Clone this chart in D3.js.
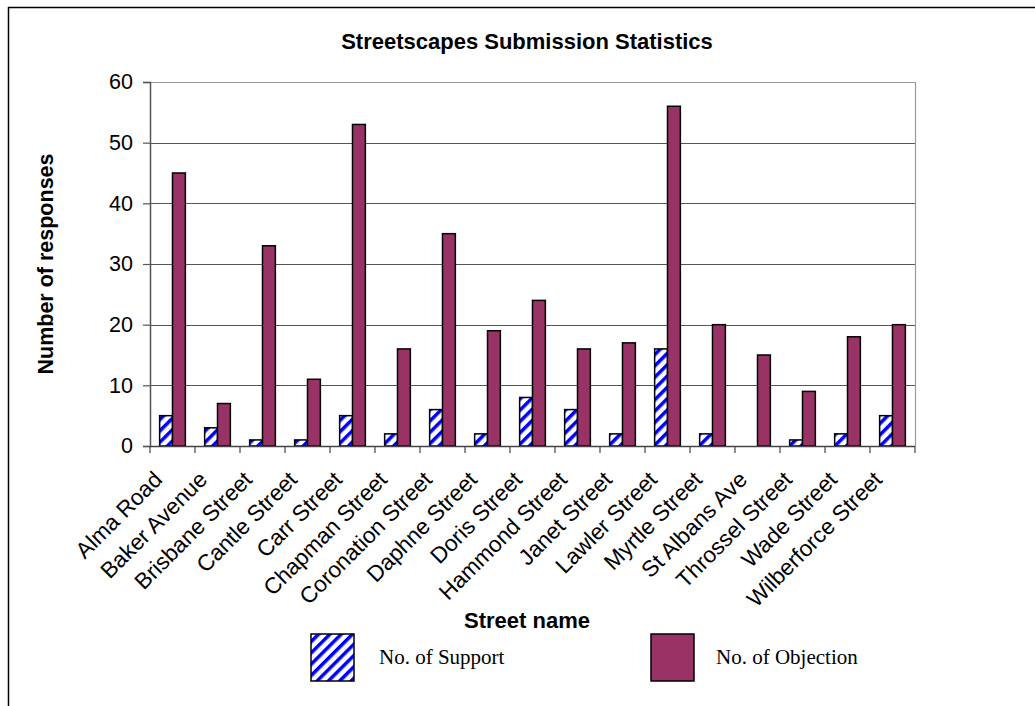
<!DOCTYPE html>
<html><head><meta charset="utf-8">
<script src="https://cdn.jsdelivr.net/npm/d3@7"></script>
<style>body{margin:0;background:#fff}</style>
</head><body>
<svg id="c" width="1035" height="706"></svg>
<script>
const categories = ["Alma Road","Baker Avenue","Brisbane Street","Cantle Street","Carr Street","Chapman Street","Coronation Street","Daphne Street","Doris Street","Hammond Street","Janet Street","Lawler Street","Myrtle Street","St Albans Ave","Throssel Street","Wade Street","Wilberforce Street"];
const support = [5,3,1,1,5,2,6,2,8,6,2,16,2,0,1,2,5];
const objection = [45,7,33,11,53,16,35,19,24,16,17,56,20,15,9,18,20];
const yTicks = [0,10,20,30,40,50,60];
const seriesNames = ["No. of Support","No. of Objection"];

const svg = d3.select("#c");
const L=150, R=915, T=82, B=446;
const SANS = "Arial, 'Liberation Sans', sans-serif";
const defs = svg.append("defs");
const pat = defs.append("pattern").attr("id","stripe").attr("patternUnits","userSpaceOnUse")
  .attr("width",8).attr("height",8).attr("patternTransform","rotate(45)");
pat.append("rect").attr("width",8).attr("height",8).attr("fill","#fff");
pat.append("rect").attr("width",3.5).attr("height",8).attr("fill","#0000ff");

// frame
svg.append("line").attr("x1",8).attr("x2",1035).attr("y1",7.5).attr("y2",7.5).attr("stroke","#000").attr("stroke-width",1.5);
svg.append("line").attr("x1",8.5).attr("x2",8.5).attr("y1",7).attr("y2",706).attr("stroke","#000").attr("stroke-width",1.5);

const x = d3.scaleBand().domain(categories).range([L,R]);
const y = d3.scaleLinear().domain([0,60]).range([B,T]);
const inner = d3.scaleBand().domain([0,1]).range([0,x.bandwidth()]).paddingInner(0).paddingOuter(0.75);

// gridlines
svg.append("g").selectAll("line").data(yTicks.filter(d=>d>0)).join("line")
  .attr("x1",L).attr("x2",R).attr("y1",d=>Math.round(y(d))+0.5).attr("y2",d=>Math.round(y(d))+0.5)
  .attr("stroke",d=>d===60?"#9a9a9a":"#555").attr("stroke-width",1.2);
svg.append("line").attr("x1",R+0.5).attr("x2",R+0.5).attr("y1",T).attr("y2",B).attr("stroke","#9a9a9a").attr("stroke-width",1.2);

// bars
const g = svg.append("g");
categories.forEach((c,i)=>{
  [[support[i],"url(#stripe)"],[objection[i],"#993366"]].forEach(([v,f],k)=>{
    if(v<=0) return;
    g.append("rect").attr("x",x(c)+inner(k)).attr("width",inner.bandwidth())
      .attr("y",y(v)).attr("height",y(0)-y(v))
      .attr("fill",f).attr("stroke","#000").attr("stroke-width",1.5);
  });
});

// axes
const ya = svg.append("g").attr("transform",`translate(${L},0)`)
  .call(d3.axisLeft(y).tickValues(yTicks).tickSize(7).tickPadding(10));
ya.select(".domain").attr("stroke","#555").attr("stroke-width",1.5);
ya.selectAll(".tick line").attr("stroke","#555").attr("stroke-width",1.2);
ya.selectAll("text").attr("font-family",SANS).attr("font-size",21.5).attr("fill","#000");

const xa = svg.append("g").attr("transform",`translate(0,${B})`);
xa.append("line").attr("x1",L).attr("x2",R).attr("y1",0.5).attr("y2",0.5).attr("stroke","#444").attr("stroke-width",1.5);
const bounds = categories.map(c=>x(c)).concat([R]);
xa.selectAll("line.t").data(bounds).join("line").attr("class","t")
  .attr("x1",d=>d).attr("x2",d=>d).attr("y1",0).attr("y2",7).attr("stroke","#444").attr("stroke-width",1.2);
xa.selectAll("text").data(categories).join("text")
  .attr("transform",d=>`translate(${x(d)+x.bandwidth()/2-9},${35}) rotate(-45)`)
  .attr("text-anchor","end").attr("font-family",SANS).attr("font-size",22.5)
  .attr("fill","#000").text(d=>d);

// titles
svg.append("text").attr("x",527).attr("y",49).attr("text-anchor","middle")
  .attr("font-family",SANS).attr("font-weight","bold").attr("font-size",22)
  .text("Streetscapes Submission Statistics");
svg.append("text").attr("transform","translate(53,264) rotate(-90)").attr("text-anchor","middle")
  .attr("font-family",SANS).attr("font-weight","bold").attr("font-size",21.5)
  .text("Number of responses");
svg.append("text").attr("x",527).attr("y",628).attr("text-anchor","middle")
  .attr("font-family",SANS).attr("font-weight","bold").attr("font-size",22)
  .text("Street name");

// legend
const leg = [{x:311,fill:"url(#stripe)",tx:379},{x:651,fill:"#993366",tx:716}];
leg.forEach((l,i)=>{
  svg.append("rect").attr("x",l.x).attr("y",634).attr("width",43).attr("height",47)
    .attr("fill",l.fill).attr("stroke","#000").attr("stroke-width",1.5);
  svg.append("text").attr("x",l.tx).attr("y",664).attr("font-family","'Liberation Serif', 'Times New Roman', serif")
    .attr("font-size",21).text(seriesNames[i]);
});
</script>
</body></html>
